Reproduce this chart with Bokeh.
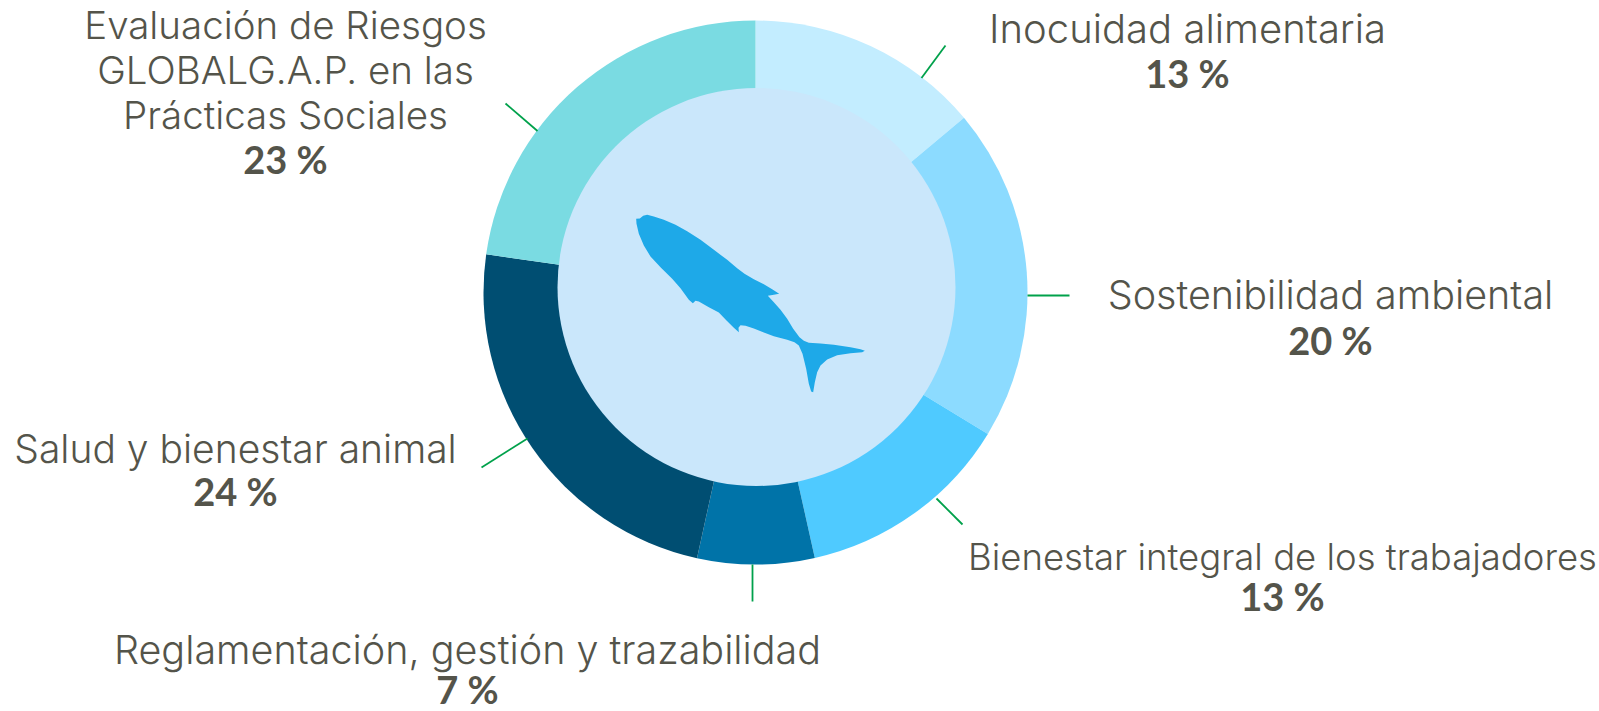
from math import pi
from bokeh.plotting import figure
from bokeh.models import Range1d
from bokeh.core.properties import value
from bokeh.embed import file_html
from bokeh.resources import INLINE

W, H = 1599, 711

categories = ["Inocuidad alimentaria", "Sostenibilidad ambiental", "Bienestar integral de los trabajadores",
              "Reglamentación, gestión y trazabilidad", "Salud y bienestar animal",
              "Evaluación de Riesgos GLOBALG.A.P. en las Prácticas Sociales"]
shares = [13.9, 19.8, 12.8, 6.95, 23.79, 22.76]
percent_labels = ["13 %", "20 %", "13 %", "7 %", "24 %", "23 %"]
colors = ["#c3edff", "#8cdbff", "#4fcaff", "#0073a8", "#004e72", "#7adbe2"]

label_lines = [["Inocuidad alimentaria"], ["Sostenibilidad ambiental"], ["Bienestar integral de los trabajadores"],
               ["Reglamentación, gestión y trazabilidad"], ["Salud y bienestar animal"],
               ["Evaluación de Riesgos", "GLOBALG.A.P. en las", "Prácticas Sociales"]]
label_pos = [(1187, 28, 72), (1330, 294, 339), (1282, 556, 595),
             (467, 649, 688), (235, 448, 490), (285, 24, 158)]
label_sizes = [40, 39.5, 36.5, 39.5, 39, 38.5]
leaders = [((921, 945), (77.5, 45)), ((1027, 1069), (295, 295)), ((936, 962), (498, 524)),
           ((752, 752), (564, 601)), ((527, 481), (438, 467)), ((537, 505), (130.5, 103))]

CX, CY, R_OUT = 755, 292, 272
IN_X, IN_Y, R_IN = 756, 286.5, 199
fish_origin = (600, 190)
fish_x = [107,118,128,140,160,190,225,260,300,340,380,410,432,460,490,515,536,520,502,520,540,560,578,597,610,625,660,700,750,780,793,785,750,710,680,660,650,643,638,632,625,617,606,595,582,560,520,490,460,435,420,414,415,400,378,355,325,295,285,277,265,240,215,180,150,130,115,108]
fish_y = [85,84,76,73,78,88,103,122,148,178,208,233,250,266,281,296,310,313,316,335,358,385,415,440,451,457,459,463,470,476,481,485,488,494,507,525,545,575,605,603,580,535,490,465,455,448,437,426,414,406,404,412,425,412,390,366,350,333,331,338,328,293,265,230,198,165,130,100]

def Y(py):
    return H - py

p = figure(width=W, height=H, x_range=Range1d(0, W), y_range=Range1d(0, H),
           output_backend="svg", toolbar_location=None, min_border=0,
           background_fill_color="white", border_fill_color="white", outline_line_color=None)
p.axis.visible = False
p.grid.visible = False

a = pi / 2
starts, ends = [], []
total = sum(shares)
for s in shares:
    starts.append(a)
    a -= s / total * 2 * pi
    ends.append(a)
p.wedge(x=[CX]*6, y=[Y(CY)]*6, radius=R_OUT, start_angle=starts, end_angle=ends, direction="clock",
        fill_color=colors, line_color=None)
p.circle(x=[IN_X], y=[Y(IN_Y)], radius=R_IN, fill_color="#cae7fb", line_color=None)
p.patch([fish_origin[0] + v/3 for v in fish_x], [Y(fish_origin[1] + v/3) for v in fish_y],
        fill_color="#1ea9e8", line_color=None)

for xs, ys in leaders:
    p.line(list(xs), [Y(v) for v in ys], line_color="#00a14b", line_width=1.8)

FONT = value("Inter Light")
for lines, (cx, y0, yp), pct, fs in zip(label_lines, label_pos, percent_labels, label_sizes):
    ys = [y0 + 45*i for i in range(len(lines))]
    p.text(x=[cx]*len(lines), y=[Y(v) for v in ys], text=lines, text_font=FONT, text_font_size=f"{fs}px",
           text_color="#54544a", text_align="center", text_baseline="middle")
    p.text(x=[cx], y=[Y(yp)], text=[pct], text_font=value("Lato"), text_font_style="bold", text_font_size="38px",
           text_color="#54544a", text_align="center", text_baseline="middle")

open("out.html", "w").write(file_html(p, INLINE))
